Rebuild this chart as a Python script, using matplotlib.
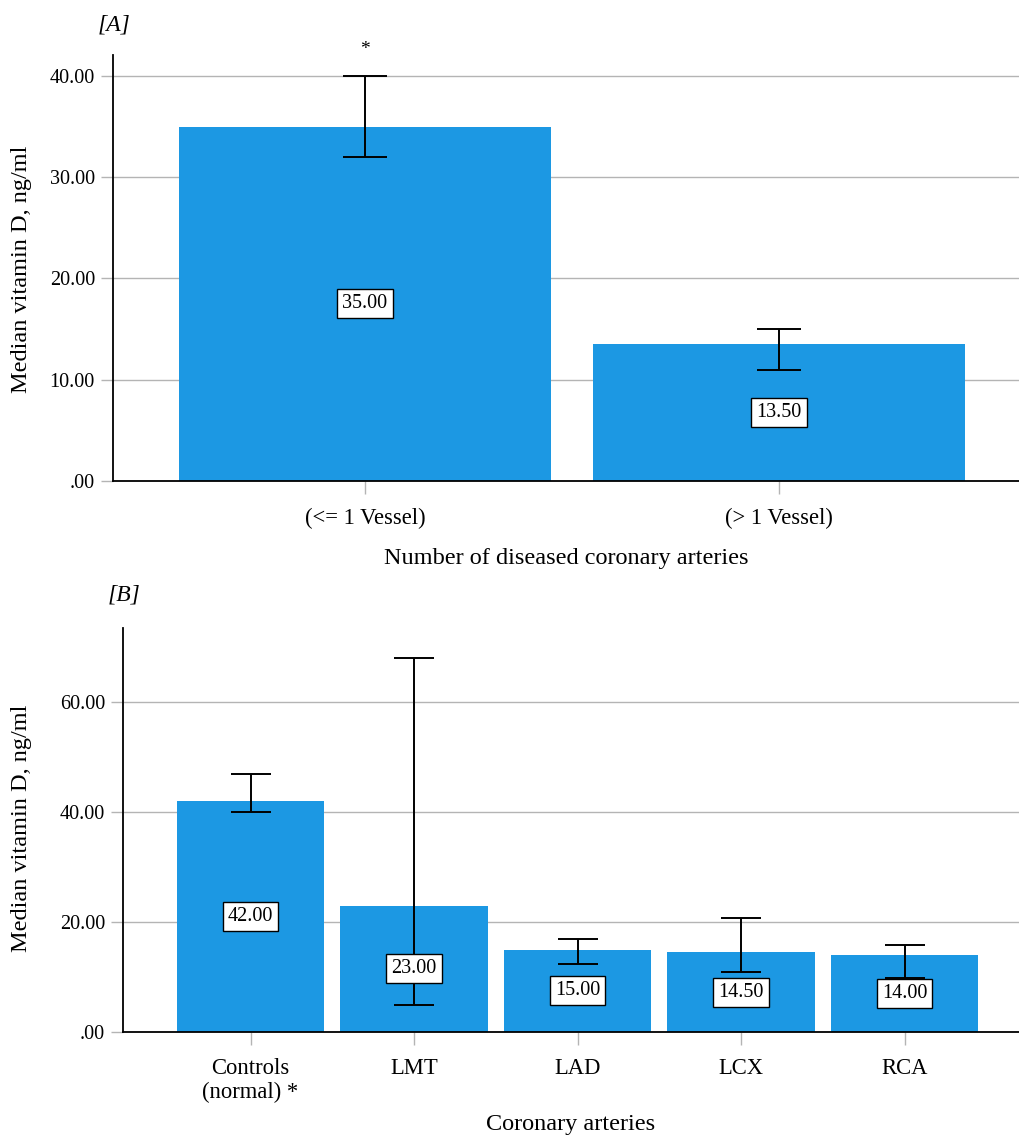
import matplotlib
matplotlib.use("Agg")
import matplotlib.pyplot as plt

plt.rcParams['font.family'] = ['Liberation Serif', 'DejaVu Serif']

# Panel A data
cats_a = ["(<= 1 Vessel)", "(> 1 Vessel)"]
vals_a = [35.0, 13.5]
lo_a = [32.0, 11.0]
hi_a = [40.0, 15.0]
yticks_a = [0, 10, 20, 30, 40]

# Panel B data
cats_b = ["Controls\n(normal) *", "LMT", "LAD", "LCX", "RCA"]
vals_b = [42.0, 23.0, 15.0, 14.5, 14.0]
lo_b = [40.0, 5.0, 12.4, 11.0, 9.9]
hi_b = [47.0, 68.0, 17.0, 20.7, 15.9]
yticks_b = [0, 20, 40, 60]

BLUE = '#1c98e3'
GRID = '#b4b4b4'
W, H = 1019, 1140
fig = plt.figure(figsize=(W / 100, H / 100), dpi=100)

def fmt(v):
    return "%.2f" % v if v != 0 else ".00"

def style(ax, yticks, ylim, xlim):
    ax.set_ylim(*ylim)
    ax.set_xlim(*xlim)
    ax.set_yticks(yticks)
    ax.set_yticklabels([fmt(v) for v in yticks], fontsize=14.5)
    ax.yaxis.grid(True, color=GRID, linewidth=1.0)
    ax.set_axisbelow(True)
    for s in ['top', 'right']:
        ax.spines[s].set_visible(False)
    ax.spines['left'].set_linewidth(1.3)
    ax.spines['bottom'].set_linewidth(1.3)
    ax.tick_params(axis='y', color=GRID, length=9, width=1.0, pad=4)
    ax.tick_params(axis='x', color=GRID, length=9, width=1.0, pad=10, labelsize=16.3)

def draw(ax, cats, vals, lo, hi, cap):
    x = list(range(len(cats)))
    ax.bar(x, vals, width=0.9, color=BLUE, zorder=2)
    yerr = [[v - l for v, l in zip(vals, lo)], [h - v for v, h in zip(vals, hi)]]
    ax.errorbar(x, vals, yerr=yerr, fmt='none', ecolor='black', elinewidth=1.4,
                capsize=cap, capthick=1.4, zorder=3)
    for xi, v in zip(x, vals):
        ax.text(xi, v / 2, "%.2f" % v, ha='center', va='center', fontsize=14.5, zorder=4,
                bbox=dict(boxstyle='square,pad=0.25', facecolor='white', edgecolor='black', linewidth=1.0))
    ax.set_xticks(x)
    ax.set_xticklabels(cats, linespacing=1.15)

# Panel A
axA = fig.add_axes([113 / W, (H - 481) / H, (W - 113) / W, (481 - 55) / H])
draw(axA, cats_a, vals_a, lo_a, hi_a, cap=16)
style(axA, yticks_a, (0, 42.07), (-0.609, 1.58))
axA.set_xlabel("Number of diseased coronary arteries", fontsize=17.5, labelpad=14)
fig.text(22 / W, 1 - 269 / H, "Median vitamin D, ng/ml", rotation=90,
         ha='center', va='center', fontsize=17.5)
axA.text(0, 42.6, "*", ha='center', va='center', fontsize=14, clip_on=False)
fig.text(114 / W, 1 - 25 / H, "[A]", ha='center', va='center', fontsize=17, style='italic')

# Panel B
axB = fig.add_axes([123 / W, (H - 1032) / H, (W - 123) / W, (1032 - 628) / H])
draw(axB, cats_b, vals_b, lo_b, hi_b, cap=14.5)
style(axB, yticks_b, (0, 73.5), (-0.78, 4.70))
axB.set_xlabel("Coronary arteries", fontsize=17.5, labelpad=8)
fig.text(22 / W, 1 - 828 / H, "Median vitamin D, ng/ml", rotation=90,
         ha='center', va='center', fontsize=17.5)
fig.text(124 / W, 1 - 595 / H, "[B]", ha='center', va='center', fontsize=17, style='italic')

fig.savefig("out.png", dpi=100)
